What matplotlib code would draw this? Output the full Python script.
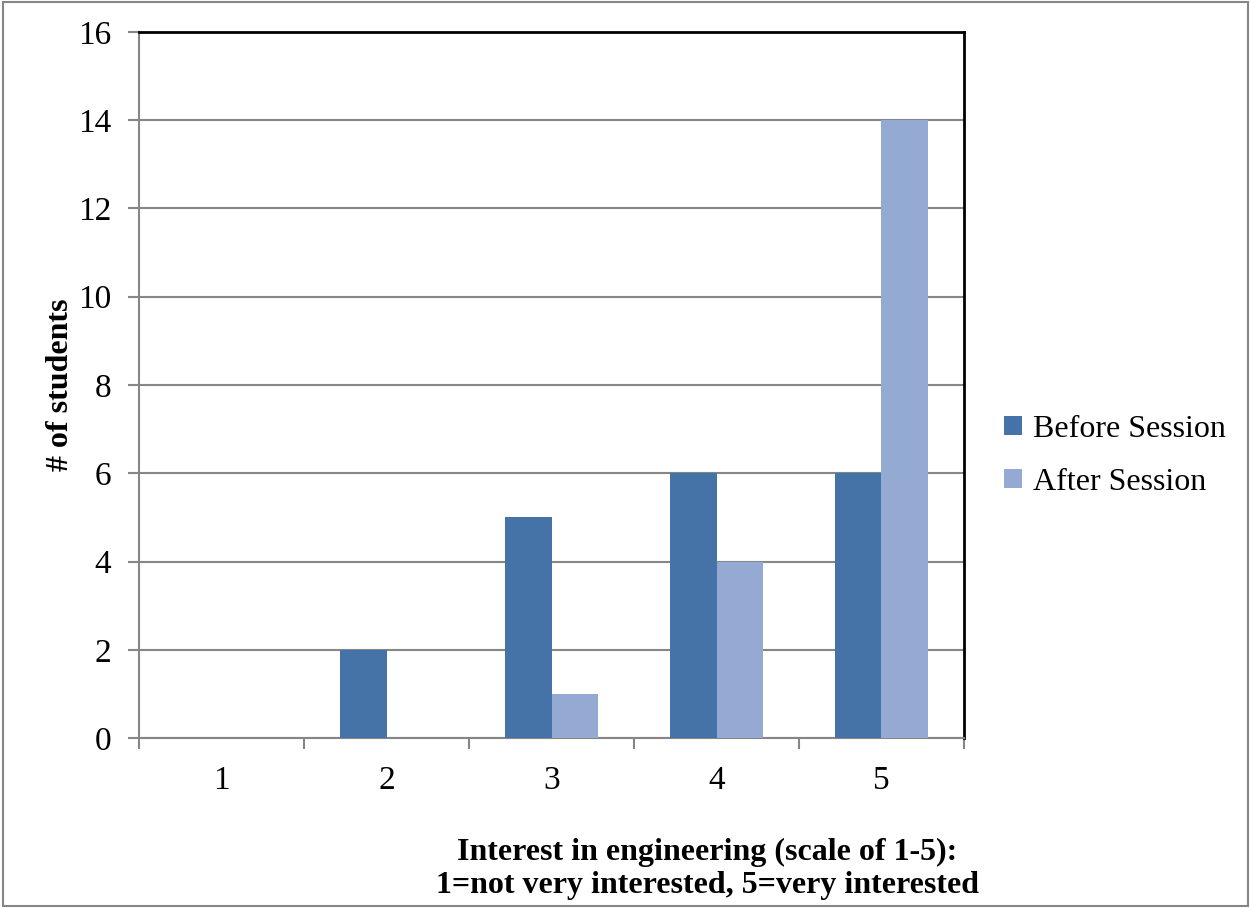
import matplotlib
matplotlib.use("Agg")
import matplotlib.pyplot as plt
from matplotlib.patches import Rectangle
import numpy as np

plt.rcParams['font.family'] = ['Liberation Serif', 'DejaVu Serif']

ratings = ['1', '2', '3', '4', '5']
before = [0, 2, 5, 6, 6]
after = [0, 0, 1, 4, 14]
y_ticks = [0, 2, 4, 6, 8, 10, 12, 14, 16]

fig = plt.figure(figsize=(12.5, 9.08), dpi=100)
ax = fig.add_axes([0.1112, 0.1872, 0.66, 0.7776])

x = np.arange(len(ratings))
w = 0.28
ax.bar(x - w / 2, before, w, color='#4572A7', label='Before Session', zorder=3)
ax.bar(x + w / 2, after, w, color='#94AAD2', label='After Session', zorder=3)

ax.set_xlim(-0.5, len(ratings) - 0.5)
ax.set_ylim(0, 16)
ax.set_yticks(y_ticks)
ax.yaxis.grid(True, color='#868686', linewidth=1.5, zorder=0)

ax.set_xticks(x)
ax.set_xticklabels(ratings)
ax.set_xticks(np.arange(len(ratings) + 1) - 0.5, minor=True)
ax.tick_params(axis='x', which='major', length=0, pad=20, labelsize=24)
ax.tick_params(axis='x', which='minor', length=8, width=1.5, color='#868686')
ax.tick_params(axis='y', length=8, width=1.5, color='#868686', pad=12, labelsize=24)

for side in ('left', 'bottom'):
    ax.spines[side].set_color('#868686')
    ax.spines[side].set_linewidth(1.5)
for side in ('top', 'right'):
    ax.spines[side].set_color('black')
    ax.spines[side].set_linewidth(2)

ax.set_ylabel('# of students', fontsize=23, fontweight='bold', labelpad=2)
fig.text(0.566, 0.043, 'Interest in engineering (scale of 1-5):\n1=not very interested, 5=very interested',
         ha='center', va='center', fontsize=23, fontweight='bold', linespacing=1.2)

ax.legend(loc='center left', bbox_to_anchor=(1.014, 0.40), frameon=False, fontsize=23,
          handlelength=0.55, handleheight=0.55, handletextpad=0.35, labelspacing=0.75)

fig.patches.append(Rectangle((0.002, 0.002), 0.996, 0.996, transform=fig.transFigure,
                             fill=False, edgecolor='#868686', linewidth=1.5))

fig.savefig('out.png', dpi=100)
